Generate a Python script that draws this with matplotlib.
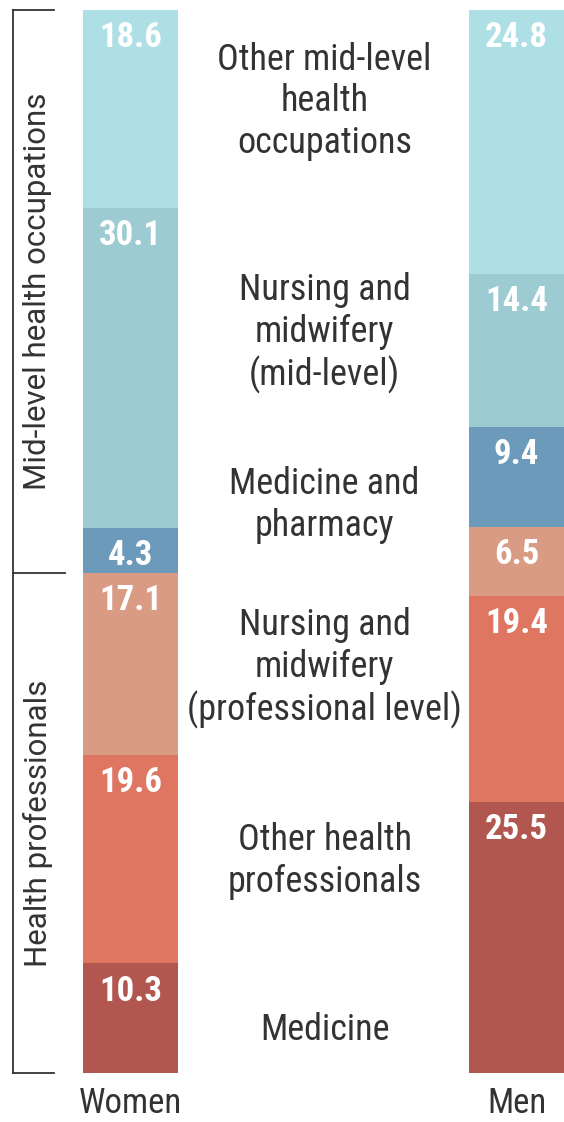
import matplotlib
matplotlib.use("Agg")
from matplotlib import pyplot as plt
from matplotlib import font_manager

# share of the health workforce by occupation group, bottom to top
groups = ["Women", "Men"]
categories = ["Medicine",
              "Other health\nprofessionals",
              "Nursing and\nmidwifery\n(professional level)",
              "Medicine and\npharmacy",
              "Nursing and\nmidwifery\n(mid-level)",
              "Other mid-level\nhealth\noccupations"]
women = [10.3, 19.6, 17.1, 4.3, 30.1, 18.6]
men = [25.5, 19.4, 6.5, 9.4, 14.4, 24.8]
colors = ["#b15750", "#de7661", "#d99b84", "#6b9aba", "#9ccbd2", "#aedfe4"]
# where the category names sit, in percent from the bottom
name_pos = [4.0, 19.9, 38.1, 53.4, 69.6, 91.4]
brackets = ["Health professionals", "Mid-level health occupations"]

names = {f.name for f in font_manager.fontManager.ttflist}
narrow = "DejaVu Sans"
for cand in ["Roboto Condensed", "Liberation Sans Narrow", "Open Sans Condensed"]:
    if cand in names:
        narrow = cand
        break
wide = "Roboto" if "Roboto" in names else "DejaVu Sans"

fig = plt.figure(figsize=(5.64, 11.22), dpi=100)
ax = fig.add_axes([0, 0.0437, 1, 0.9474])
ax.set_xlim(-0.338, 1.123)
ax.set_ylim(0, 100)
ax.axis("off")

text_col = "#333333"
bw = 0.246
for i, vals in enumerate([women, men]):
    bottom = 0
    for v, c in zip(vals, colors):
        ax.bar(i, v, width=bw, bottom=bottom, color=c, linewidth=0)
        ax.annotate(f"{v:.1f}", xy=(i, bottom + v), xytext=(0, -8),
                    textcoords="offset points", ha="center", va="top",
                    color="white", fontsize=25, fontweight="bold",
                    family=narrow, stretch="condensed")
        bottom += v
    ax.text(i, -3.76, groups[i], ha="center", va="baseline", fontsize=25,
            color=text_col, family=narrow, stretch="condensed")

for name, y in zip(categories, name_pos):
    ax.text(0.503, y, name, ha="center", va="center", fontsize=26,
            color=text_col, family=narrow, stretch="condensed",
            linespacing=1.21)

# brackets grouping the two occupation levels
split = sum(women[:3])
lx = -0.304
ax.plot([lx, lx], [0, 100], color=text_col, lw=1.3, clip_on=False)
ax.plot([lx, -0.198], [100, 100], color=text_col, lw=1.3, clip_on=False)
ax.plot([lx, -0.198], [0, 0], color=text_col, lw=1.3, clip_on=False)
ax.plot([lx, -0.170], [split, split], color=text_col, lw=1.3, clip_on=False)
ax.text(-0.240, split / 2, brackets[0], rotation=90, ha="center",
        va="center", fontsize=22.5, color=text_col, family=wide)
ax.text(-0.240, (split + 100) / 2, brackets[1], rotation=90, ha="center",
        va="center", fontsize=22.5, color=text_col, family=wide)

fig.savefig("out.png", dpi=100)
